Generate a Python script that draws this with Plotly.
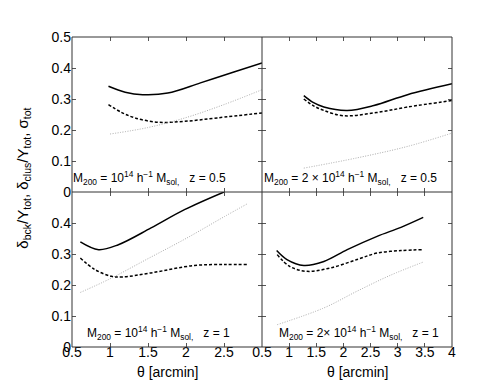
import plotly.graph_objects as go
from plotly.subplots import make_subplots

# panel 1: M200 = 1e14, z = 0.5
th_a_solid = [0.98, 1.2, 1.43, 1.76, 2.19, 2.63, 3.0]
a_solid = [0.341, 0.322, 0.314, 0.319, 0.352, 0.387, 0.416]
th_a_dash = [0.98, 1.15, 1.33, 1.63, 1.98, 2.41, 3.0]
a_dash = [0.282, 0.257, 0.239, 0.225, 0.228, 0.239, 0.255]
th_a_dot = [1.0, 1.5, 2.0, 2.5, 3.0]
a_dot = [0.187, 0.208, 0.240, 0.282, 0.330]

# panel 2: M200 = 2e14, z = 0.5
th_b_solid = [1.27, 1.45, 1.64, 2.07, 2.56, 3.18, 4.0]
b_solid = [0.311, 0.288, 0.274, 0.263, 0.279, 0.314, 0.349]
th_b_dash = [1.27, 1.45, 1.64, 2.0, 2.56, 3.18, 4.0]
b_dash = [0.300, 0.278, 0.263, 0.246, 0.255, 0.274, 0.295]
th_b_dot = [1.27, 2.25, 3.18, 4.0]
b_dot = [0.077, 0.110, 0.147, 0.190]

# panel 3: M200 = 1e14, z = 1
th_c_solid = [0.61, 0.85, 1.11, 1.54, 1.98, 2.5]
c_solid = [0.339, 0.314, 0.330, 0.384, 0.443, 0.5]
th_c_dash = [0.61, 0.8, 1.02, 1.17, 1.54, 2.11, 2.52, 2.8]
c_dash = [0.287, 0.250, 0.228, 0.226, 0.239, 0.263, 0.266, 0.266]
th_c_dot = [0.61, 1.0, 1.5, 2.0, 2.5, 2.8]
c_dot = [0.176, 0.220, 0.285, 0.350, 0.420, 0.461]

# panel 4: M200 = 2e14, z = 1
th_d_solid = [0.77, 0.96, 1.27, 1.64, 2.07, 2.62, 3.06, 3.47]
d_solid = [0.311, 0.282, 0.263, 0.276, 0.314, 0.357, 0.386, 0.418]
th_d_dash = [0.78, 1.01, 1.33, 1.76, 2.25, 2.62, 3.06, 3.47]
d_dash = [0.298, 0.260, 0.244, 0.255, 0.282, 0.303, 0.311, 0.314]
th_d_dot = [0.78, 1.64, 2.25, 2.86, 3.47]
d_dot = [0.072, 0.126, 0.180, 0.231, 0.274]

labels = [
    "M<sub>200</sub> = 10<sup>14</sup> h<sup>\u22121</sup> M<sub>sol,</sub>\u00a0\u00a0 z = 0.5",
    "M<sub>200</sub> = 2 \u00d7 10<sup>14</sup> h<sup>\u22121</sup> M<sub>sol,</sub>\u00a0\u00a0 z = 0.5",
    "M<sub>200</sub> = 10<sup>14</sup> h<sup>\u22121</sup> M<sub>sol,</sub>\u00a0\u00a0 z = 1",
    "M<sub>200</sub> = 2\u00d7 10<sup>14</sup> h<sup>\u22121</sup> M<sub>sol,</sub>\u00a0\u00a0 z = 1",
]

panels = [
    (1, 1, th_a_solid, a_solid, th_a_dash, a_dash, th_a_dot, a_dot),
    (1, 2, th_b_solid, b_solid, th_b_dash, b_dash, th_b_dot, b_dot),
    (2, 1, th_c_solid, c_solid, th_c_dash, c_dash, th_c_dot, c_dot),
    (2, 2, th_d_solid, d_solid, th_d_dash, d_dash, th_d_dot, d_dot),
]
label_pos = [(-0.003, 0.09), (0.002, 0.09), (0.07, 0.09), (0.08, 0.09)]

fig = make_subplots(rows=2, cols=2, horizontal_spacing=0, vertical_spacing=0)

for i, (r, c, xs, ys, xd, yd, xt, yt) in enumerate(panels):
    fig.add_trace(go.Scatter(x=xs, y=ys, mode="lines", line=dict(color="black", width=1.5, shape="spline")), row=r, col=c)
    fig.add_trace(go.Scatter(x=xd, y=yd, mode="lines", line=dict(color="black", width=1.5, dash="3px,2px", shape="spline")), row=r, col=c)
    fig.add_trace(go.Scatter(x=xt, y=yt, mode="lines", line=dict(color="#aaaaaa", width=1, dash="1px,1.5px", shape="spline")), row=r, col=c)
    ax = "" if i == 0 else str(i + 1)
    fig.add_annotation(
        text=labels[i], xref=f"x{ax} domain", yref=f"y{ax} domain",
        x=label_pos[i][0], y=label_pos[i][1], xanchor="left", yanchor="middle",
        align="left", showarrow=False, font=dict(size=12, color="black"),
    )

axis_style = dict(
    showline=False, mirror="ticks",
    ticks="inside", ticklen=4, tickcolor="#555555", showgrid=False, zeroline=False,
    tickfont=dict(size=14, color="black"),
)

fig.update_xaxes(**axis_style)
fig.update_yaxes(**axis_style)

fig.update_xaxes(range=[0.5, 3], tickvals=[0.5, 1, 1.5, 2, 2.5, 3], col=1)
fig.update_xaxes(range=[0.5, 4], tickvals=[0.5, 1, 1.5, 2, 2.5, 3, 3.5, 4], col=2)
fig.update_xaxes(showticklabels=False, row=1)
fig.update_xaxes(ticklabelstandoff=-5, row=2)
fig.update_xaxes(ticktext=["0.5", "1", "1.5", "2", "2.5", ""], row=2, col=1)

fig.update_yaxes(range=[0, 0.5], tickvals=[0, 0.1, 0.2, 0.3, 0.4, 0.5])
fig.update_yaxes(showticklabels=False, col=2)
fig.update_yaxes(ticktext=["0", "0.1", "0.2", "0.3", "0.4", ""], row=2, col=1)

# panel borders
border = dict(color="#333333", width=1)
fig.add_shape(type="rect", xref="paper", yref="paper", x0=0, x1=1, y0=0, y1=1, line=border)
fig.add_shape(type="line", xref="paper", yref="paper", x0=0.5, x1=0.5, y0=0, y1=1, line=border)
fig.add_shape(type="line", xref="paper", yref="paper", x0=0, x1=1, y0=0.5, y1=0.5, line=border)

for xc in [0.25, 0.75]:
    fig.add_annotation(
        text="\u03b8 [arcmin]", xref="paper", yref="paper", x=xc, y=-0.08,
        xanchor="center", yanchor="middle", showarrow=False,
        font=dict(size=14, color="black"),
    )

fig.add_annotation(
    text="\u03b4<sub>bck</sub>/Y<sub>tot</sub>, \u03b4<sub>clus</sub>/Y<sub>tot</sub>, \u03c3<sub>tot</sub>",
    xref="paper", yref="paper", x=-0.13, y=0.545, xanchor="center", yanchor="middle",
    textangle=-90, showarrow=False, font=dict(size=15, color="black"),
)

fig.update_layout(
    width=491, height=382,
    margin=dict(l=64, r=47, t=29, b=43),
    paper_bgcolor="white", plot_bgcolor="white",
    showlegend=False,
    font=dict(family="Liberation Sans, Arial, sans-serif", color="black"),
)

fig.write_html("out.html")
